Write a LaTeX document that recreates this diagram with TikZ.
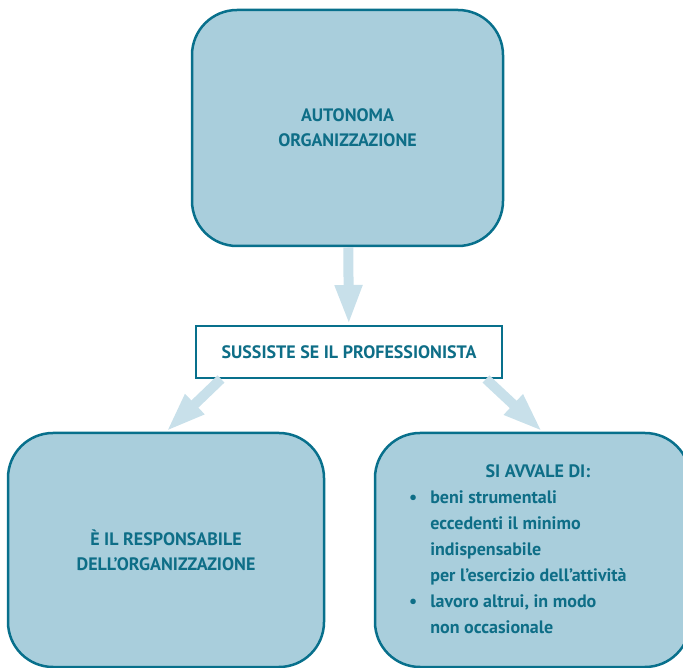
\documentclass[tikz,border=0pt]{standalone}
\usepackage{fontspec}
\setmainfont{PT Sans}
\usetikzlibrary{arrows.meta}
\definecolor{boxfill}{RGB}{169,206,220}
\definecolor{boxline}{RGB}{8,112,140}
\definecolor{boxtext}{RGB}{14,110,135}
\definecolor{arrowfill}{RGB}{200,224,234}

\tikzset{
roundbox/.style={draw=boxline,line width=2.5pt,fill=boxfill,rounded corners=45pt,
  text=boxtext,font=\bfseries\fontsize{18}{25}\selectfont,align=center,inner sep=0pt},
flatbox/.style={draw=boxline,line width=2pt,fill=white,
  text=boxtext,font=\bfseries\fontsize{18}{20}\selectfont,inner sep=0pt},
bigarrow/.style={arrowfill,line width=10pt,-{Triangle[width=25pt,length=40pt]}}
}

\begin{document}
\begin{tikzpicture}[x=1pt,y=1pt]
\useasboundingbox (0,0) rectangle (683,667);

% boxes
\node[roundbox,minimum width=311pt,minimum height=236pt] (autonoma) at (347.5,539)
{AUTONOMA\\ORGANIZZAZIONE};

\node[flatbox,minimum width=306pt,minimum height=52pt] (sussiste) at (349,315)
{SUSSISTE SE IL PROFESSIONISTA};

\node[roundbox,minimum width=316pt,minimum height=234pt] (responsabile) at (166,117)
{È IL RESPONSABILE\\DELL’ORGANIZZAZIONE};

\node[roundbox,minimum width=315pt,minimum height=234pt] (avvale) at (532.5,117) {};
\node[text=boxtext,font=\bfseries\fontsize{18}{26}\selectfont,anchor=north west,inner sep=0pt] (elenco) at (409,208)
{\begin{tabular}{@{}l@{\hspace{13pt}}l@{}}
\multicolumn{2}{@{}c@{}}{\hspace{40pt}SI AVVALE DI:}\\
\textbullet & beni strumentali\\
 & eccedenti il minimo\\
 & indispensabile\\
 & per l’esercizio dell’attività\\
\textbullet & lavoro altrui, in modo\\
 & non occasionale
\end{tabular}};

% arrows
\draw[bigarrow] (autonoma) -- (sussiste);
\draw[bigarrow] ([xshift=26pt]sussiste.south west) -- (responsabile.north);
\draw[bigarrow] ([xshift=-17pt]sussiste.south east) -- ([xshift=10pt]avvale.north);

\end{tikzpicture}
\end{document}
